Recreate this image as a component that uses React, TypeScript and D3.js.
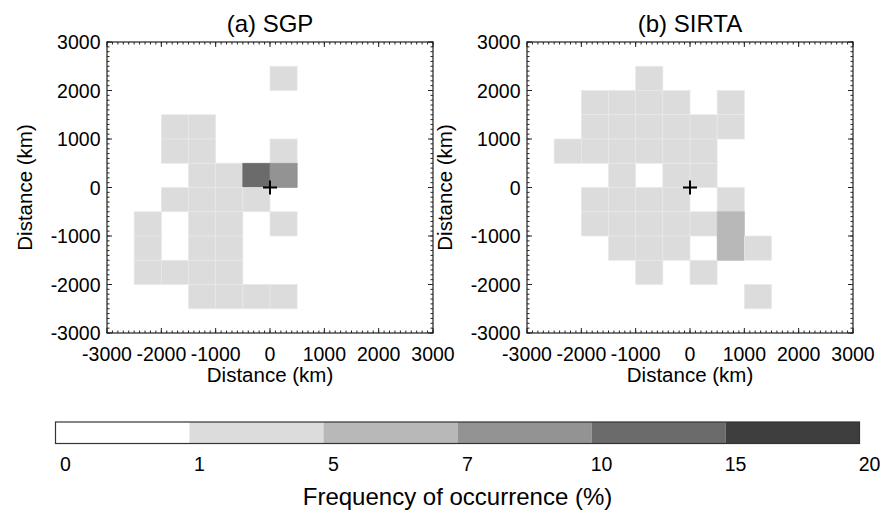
import { useEffect } from "react"
import * as d3 from "d3"

// frequency bins of the colour bar (%)
const levels = [0, 1, 5, 7, 10, 15, 20]
const levelColors = ["#ffffff", "#dcdcdc", "#b8b8b8", "#939393", "#6b6b6b", "#3e3e3e"]

// grid cells: x / y = lower-left corner (km), f = frequency of occurrence (%)
const sgpCells = [
  { x: 0, y: 2000, f: 3 },
  { x: -2000, y: 1000, f: 3 }, { x: -1500, y: 1000, f: 3 },
  { x: -2000, y: 500, f: 3 }, { x: -1500, y: 500, f: 3 }, { x: 0, y: 500, f: 3 },
  { x: -1500, y: 0, f: 3 }, { x: -1000, y: 0, f: 3 }, { x: -500, y: 0, f: 12 }, { x: 0, y: 0, f: 8 },
  { x: -2000, y: -500, f: 3 }, { x: -1500, y: -500, f: 3 }, { x: -1000, y: -500, f: 3 }, { x: -500, y: -500, f: 3 },
  { x: -2500, y: -1000, f: 3 }, { x: -1500, y: -1000, f: 3 }, { x: -1000, y: -1000, f: 3 }, { x: 0, y: -1000, f: 3 },
  { x: -2500, y: -1500, f: 3 }, { x: -1500, y: -1500, f: 3 }, { x: -1000, y: -1500, f: 3 },
  { x: -2500, y: -2000, f: 3 }, { x: -2000, y: -2000, f: 3 }, { x: -1500, y: -2000, f: 3 }, { x: -1000, y: -2000, f: 3 },
  { x: -1500, y: -2500, f: 3 }, { x: -1000, y: -2500, f: 3 }, { x: -500, y: -2500, f: 3 }, { x: 0, y: -2500, f: 3 },
]

const sirtaCells = [
  { x: -1000, y: 2000, f: 3 },
  { x: -2000, y: 1500, f: 3 }, { x: -1500, y: 1500, f: 3 }, { x: -1000, y: 1500, f: 3 }, { x: -500, y: 1500, f: 3 }, { x: 500, y: 1500, f: 3 },
  { x: -2000, y: 1000, f: 3 }, { x: -1500, y: 1000, f: 3 }, { x: -1000, y: 1000, f: 3 }, { x: -500, y: 1000, f: 3 }, { x: 0, y: 1000, f: 3 }, { x: 500, y: 1000, f: 3 },
  { x: -2500, y: 500, f: 3 }, { x: -2000, y: 500, f: 3 }, { x: -1500, y: 500, f: 3 }, { x: -1000, y: 500, f: 3 }, { x: -500, y: 500, f: 3 }, { x: 0, y: 500, f: 3 },
  { x: -1500, y: 0, f: 3 }, { x: -500, y: 0, f: 3 }, { x: 0, y: 0, f: 3 },
  { x: -2000, y: -500, f: 3 }, { x: -1500, y: -500, f: 3 }, { x: -1000, y: -500, f: 3 }, { x: -500, y: -500, f: 3 }, { x: 500, y: -500, f: 3 },
  { x: -2000, y: -1000, f: 3 }, { x: -1500, y: -1000, f: 3 }, { x: -1000, y: -1000, f: 3 }, { x: -500, y: -1000, f: 3 }, { x: 0, y: -1000, f: 3 }, { x: 500, y: -1000, f: 6 },
  { x: -1500, y: -1500, f: 3 }, { x: -1000, y: -1500, f: 3 }, { x: -500, y: -1500, f: 3 }, { x: 500, y: -1500, f: 6 }, { x: 1000, y: -1500, f: 3 },
  { x: -1000, y: -2000, f: 3 }, { x: 0, y: -2000, f: 3 },
  { x: 1000, y: -2500, f: 3 },
]

const majorTicks = [-3000, -2000, -1000, 0, 1000, 2000, 3000]
const cellSize = 500

const FONT = "'Liberation Sans', Arial, Helvetica, sans-serif"
const plotW = 326
const plotH = 291
const plotTop = 42

const color = d3.scaleThreshold<number, string>().domain(levels.slice(1, -1)).range(levelColors)

function Panel({ left, title, cells }: { left: number; title: string; cells: { x: number; y: number; f: number }[] }) {
  const x = d3.scaleLinear().domain([-3000, 3000]).range([0, plotW])
  const y = d3.scaleLinear().domain([-3000, 3000]).range([plotH, 0])
  const minor = d3.range(-3000, 3001, 100)

  return (
    <g transform={`translate(${left},${plotTop})`}>
      {cells.map((c, i) => (
        <rect
          key={i}
          x={x(c.x)}
          y={y(c.y + cellSize)}
          width={x(c.x + cellSize) - x(c.x)}
          height={y(c.y) - y(c.y + cellSize)}
          fill={color(c.f)}
          stroke={c.f < 5 ? "#e9e9e9" : color(c.f)}
          strokeWidth={0.7}
        />
      ))}
      {/* station marker */}
      <path
        d={`M${x(0) - 7},${y(0)}H${x(0) + 7}M${x(0)},${y(0) - 7}V${y(0) + 7}`}
        stroke="#000"
        strokeWidth={2}
      />
      {/* minor ticks */}
      {minor.map((t) => (
        <g key={"m" + t} stroke="#222" strokeWidth={1}>
          <line x1={x(t)} x2={x(t)} y1={plotH} y2={plotH - 2.5} />
          <line x1={x(t)} x2={x(t)} y1={0} y2={2.5} />
          <line x1={0} x2={2.5} y1={y(t)} y2={y(t)} />
          <line x1={plotW} x2={plotW - 2.5} y1={y(t)} y2={y(t)} />
        </g>
      ))}
      {majorTicks.map((t) => (
        <g key={"M" + t} stroke="#222" strokeWidth={1}>
          <line x1={x(t)} x2={x(t)} y1={plotH} y2={plotH - 5} />
          <line x1={x(t)} x2={x(t)} y1={0} y2={5} />
          <line x1={0} x2={5} y1={y(t)} y2={y(t)} />
          <line x1={plotW} x2={plotW - 5} y1={y(t)} y2={y(t)} />
        </g>
      ))}
      <rect x={0} y={0} width={plotW} height={plotH} fill="none" stroke="#222" strokeWidth={1.2} />
      {majorTicks.map((t) => (
        <text key={"xl" + t} x={x(t)} y={plotH + 27.5} textAnchor="middle" fontSize={19.5}>
          {t}
        </text>
      ))}
      {majorTicks.map((t) => (
        <text key={"yl" + t} x={-6.5} y={y(t) + 7} textAnchor="end" fontSize={19.5}>
          {t}
        </text>
      ))}
      <text x={plotW / 2} y={-10.5} textAnchor="middle" fontSize={24}>
        {title}
      </text>
      <text x={plotW / 2} y={plotH + 48.5} textAnchor="middle" fontSize={20.5}>
        Distance (km)
      </text>
    </g>
  )
}

function ColorBar() {
  const cb = d3.scaleLinear().domain([0, levels.length - 1]).range([55.5, 859.5])
  const top = 422
  const h = 21.5
  return (
    <g>
      {levelColors.map((c, i) => (
        <rect key={i} x={cb(i)} y={top} width={cb(i + 1) - cb(i)} height={h} fill={c} />
      ))}
      <rect x={cb(0)} y={top} width={cb(levels.length - 1) - cb(0)} height={h} fill="none" stroke="#333" strokeWidth={1.2} />
      {levels.map((l, i) => (
        <text key={l} x={cb(i) + 10} y={470.5} textAnchor="middle" fontSize={19.5}>
          {l}
        </text>
      ))}
      <text x={457.5} y={505} textAnchor="middle" fontSize={24}>
        Frequency of occurrence (%)
      </text>
    </g>
  )
}

export default function App() {
  useEffect(() => {
    document.body.style.margin = "0"
  }, [])

  return (
    <svg width={881} height={514} style={{ display: "block", fontFamily: FONT }} fill="#000">
      <rect width={881} height={514} fill="#fff" />
      <Panel left={107} title="(a) SGP" cells={sgpCells} />
      <Panel left={527} title="(b) SIRTA" cells={sirtaCells} />
      <text transform="translate(32,187.5) rotate(-90)" textAnchor="middle" fontSize={20.5}>
        Distance (km)
      </text>
      <text transform="translate(452,187.5) rotate(-90)" textAnchor="middle" fontSize={20.5}>
        Distance (km)
      </text>
      <ColorBar />
    </svg>
  )
}
